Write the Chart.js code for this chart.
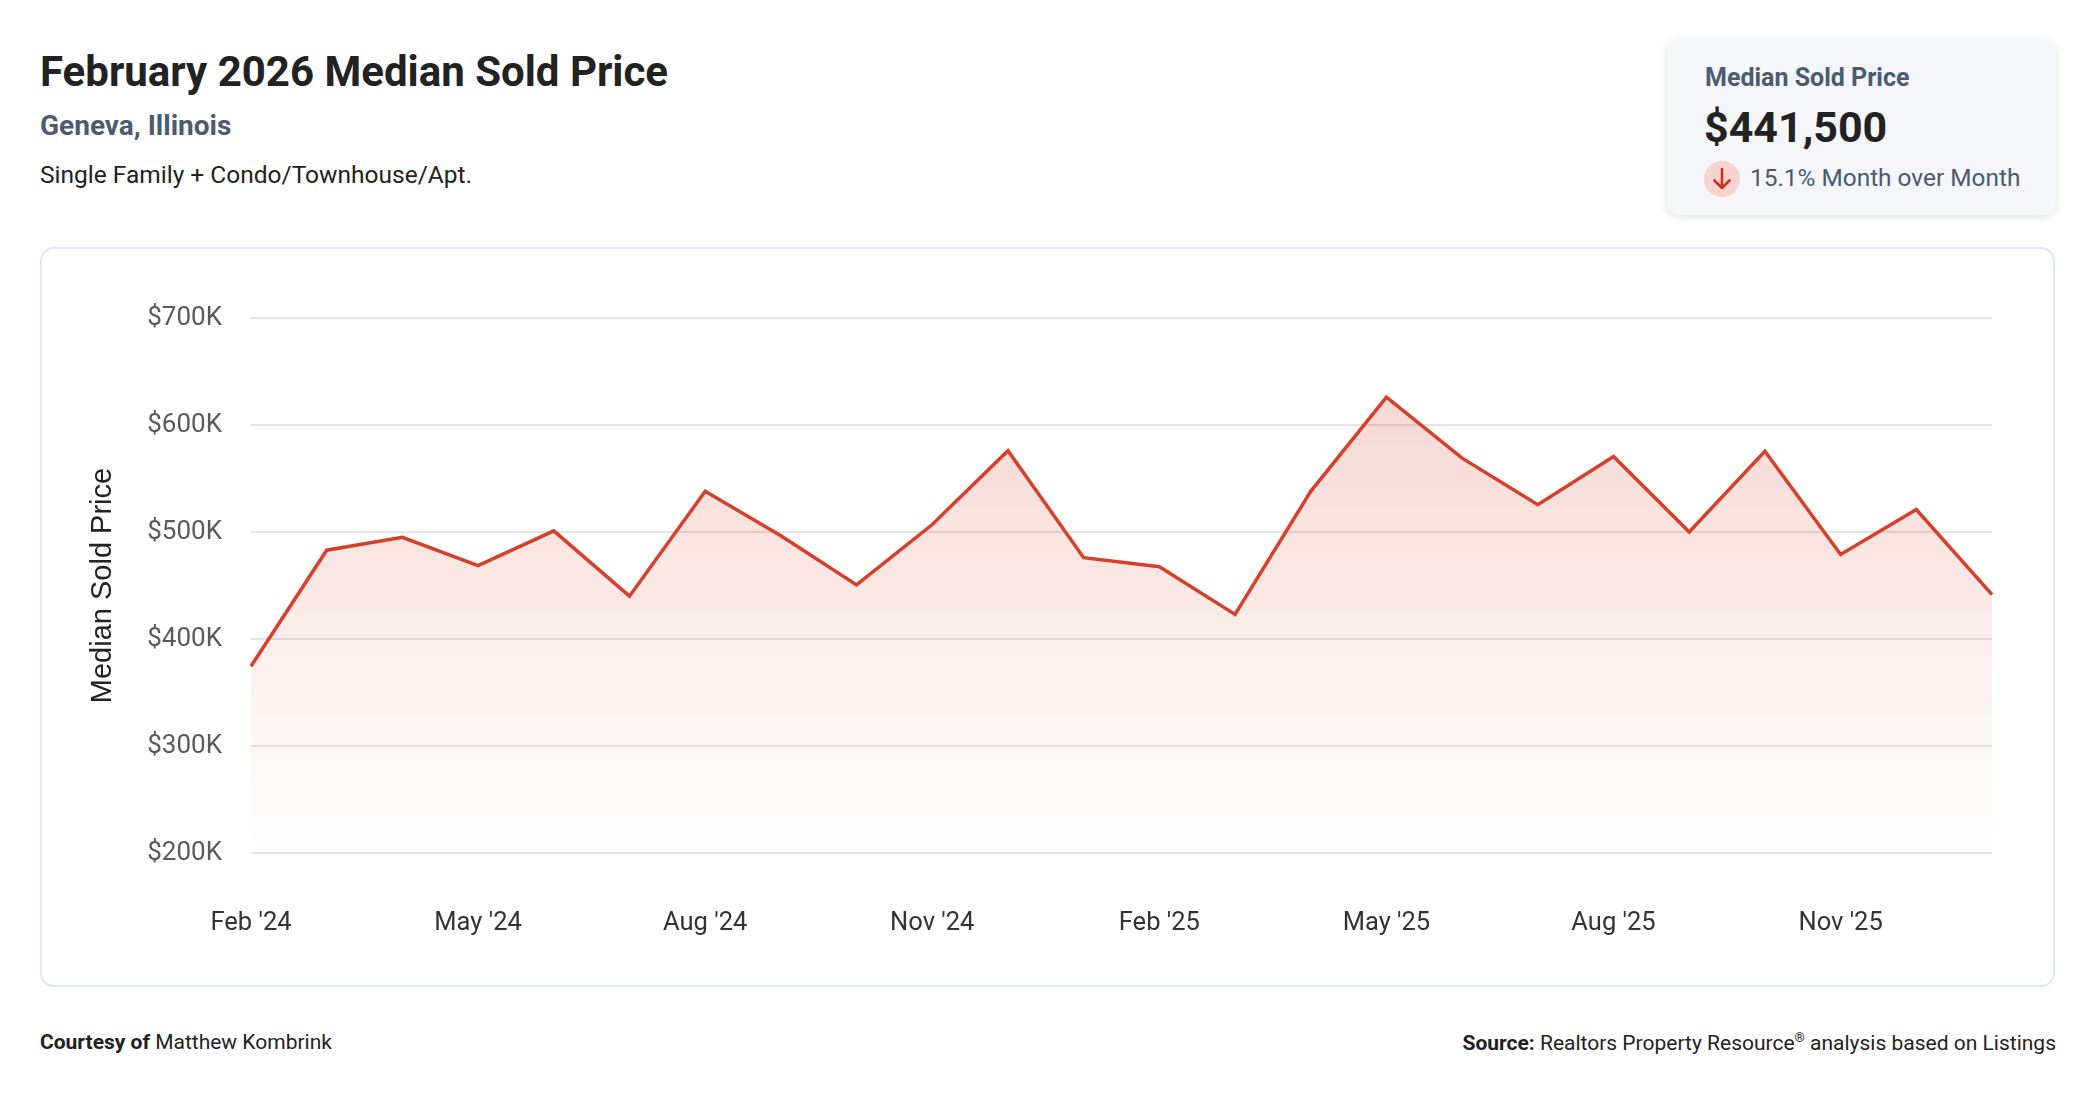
<!DOCTYPE html>
<html>
<head>
<meta charset="utf-8">
<script src="https://cdn.jsdelivr.net/npm/chart.js@4.4.1/dist/chart.umd.min.js"></script>
<style>
    html, body {
        margin: 0;
        padding: 0;
        background: #fff;
        width: 2096px;
        height: 1100px;
        overflow: hidden;
        font-family: Roboto, 'Noto Sans', sans-serif;
    }
    .abs { position: absolute; white-space: nowrap; }
    .title { left: 40px; top: 47px; font-size: 42px; font-weight: 700; color: #222; line-height: 1.2; }
    .place { left: 40px; top: 109px; font-size: 28px; font-weight: 700; color: #4b5b70; line-height: 1.2; }
    .type { left: 40px; top: 160px; font-size: 24.5px; color: #222; line-height: 1.2; }
    .kpi {
        left: 1667px; top: 39px; width: 389px; height: 176px;
        background: #f4f6f9;
        border-radius: 12px;
        box-shadow: 0 2px 8px rgba(0,0,0,0.13);
    }
    .kpi-label { left: 38px; top: 24px; font-size: 25px; font-weight: 700; color: #4b5b70; line-height: 1.2; }
    .kpi-value { left: 37px; top: 63px; font-size: 43px; font-weight: 700; color: #222; line-height: 1.2; }
    .kpi-icon {
        left: 37px; top: 122px; width: 36px; height: 36px; border-radius: 50%;
        background: #f6d3cc;
    }
    .kpi-change { left: 83px; top: 124px; font-size: 24.4px; color: #4b5b70; line-height: 1.2; }
    .card {
        left: 40px; top: 247px; width: 2011px; height: 736px;
        border: 2px solid #e1e7ee;
        border-radius: 14px;
    }
    .chart-box { position: absolute; left: 0; top: 0; width: 2011px; height: 736px; }
    .foot { top: 1030px; font-size: 21px; color: #222; line-height: 1.2; }
    .foot b { font-weight: 700; }
</style>
</head>
<body>
<div class="abs title">February 2026 Median Sold Price</div>
<div class="abs place">Geneva, Illinois</div>
<div class="abs type">Single Family + Condo/Townhouse/Apt.</div>

<div class="abs kpi">
    <div class="abs kpi-label">Median Sold Price</div>
    <div class="abs kpi-value">$441,500</div>
    <div class="abs kpi-icon">
        <svg width="36" height="36" viewBox="0 0 36 36">
            <path d="M18 8 L18 27 M10.5 19.5 L18 27 L25.5 19.5" stroke="#c8301f" stroke-width="2.6" fill="none" stroke-linecap="round" stroke-linejoin="round"/>
        </svg>
    </div>
    <div class="abs kpi-change">15.1% Month over Month</div>
</div>

<div class="abs card">
    <div class="chart-box"><canvas id="priceChart"></canvas></div>
</div>

<div class="abs foot" style="left:40px;"><b>Courtesy of</b> Matthew Kombrink</div>
<div class="abs foot" style="right:40px;"><b>Source:</b> Realtors Property Resource<sup style="font-size:13px;">®</sup> analysis based on Listings</div>

<script>
// Monthly data
const months = [
    "Feb '24", "Mar '24", "Apr '24", "May '24", "Jun '24", "Jul '24",
    "Aug '24", "Sep '24", "Oct '24", "Nov '24", "Dec '24", "Jan '25",
    "Feb '25", "Mar '25", "Apr '25", "May '25", "Jun '25", "Jul '25",
    "Aug '25", "Sep '25", "Oct '25", "Nov '25", "Dec '25", "Jan '26"
];

const medianPrices = [
    374500, 483000, 495000, 468500, 501000, 440000,
    538000, 496500, 450500, 507000, 576000, 476000,
    467500, 423000, 538000, 626000, 569000, 525500,
    570500, 500000, 575500, 479000, 521000, 441500
];

// y axis ticks
const priceTicks = [200000, 300000, 400000, 500000, 600000, 700000];

const lineColor = '#d63f2a';

function areaGradient(context) {
    const chart = context.chart;
    const area = chart.chartArea;
    if (!area) return 'rgba(214, 63, 42, 0.2)';
    const g = chart.ctx.createLinearGradient(0, area.top, 0, area.bottom);
    g.addColorStop(0, 'rgba(214, 63, 42, 0.24)');
    g.addColorStop(1, 'rgba(214, 63, 42, 0.0)');
    return g;
}

document.addEventListener('DOMContentLoaded', () => {
    const ctx = document.getElementById('priceChart').getContext('2d');
    new Chart(ctx, {
        type: 'line',
        data: {
            labels: months,
            datasets: [{
                label: 'Median Sold Price',
                data: medianPrices,
                borderColor: lineColor,
                borderWidth: 3.5,
                backgroundColor: areaGradient,
                fill: 'start',
                tension: 0,
                pointRadius: 0,
                pointHoverRadius: 0
            }]
        },
        options: {
            responsive: true,
            maintainAspectRatio: false,
            animation: false,
            layout: {
                padding: { left: 40, right: 61, top: 69, bottom: 46 }
            },
            plugins: {
                legend: { display: false },
                tooltip: { enabled: false }
            },
            scales: {
                x: {
                    afterFit: function(scale) {
                        scale.height = 86;
                    },
                    grid: { display: false, drawTicks: false },
                    border: { display: false },
                    ticks: {
                        autoSkip: false,
                        maxRotation: 0,
                        padding: 55,
                        color: '#333',
                        font: { family: 'Roboto', size: 25.5 },
                        callback: function(value, index) {
                            return index % 3 === 0 ? months[index] : '';
                        }
                    }
                },
                y: {
                    min: priceTicks[0],
                    max: priceTicks[priceTicks.length - 1],
                    afterBuildTicks: function(scale) {
                        scale.ticks = priceTicks.map(v => ({ value: v }));
                    },
                    afterFit: function(scale) {
                        scale.width = 169;
                    },
                    grid: {
                        color: '#e4e4e4',
                        lineWidth: 2,
                        drawTicks: false
                    },
                    border: { display: false },
                    ticks: {
                        padding: 29,
                        color: '#5a5a5a',
                        font: { family: 'Roboto', size: 26 },
                        callback: function(value) {
                            return '$' + (value / 1000) + 'K';
                        }
                    },
                    title: {
                        display: true,
                        text: 'Median Sold Price',
                        color: '#222',
                        font: { family: "'Liberation Sans', Arial, sans-serif", size: 29 },
                        padding: { top: 4, bottom: 4 }
                    }
                }
            }
        }
    });
});
</script>
</body>
</html>
